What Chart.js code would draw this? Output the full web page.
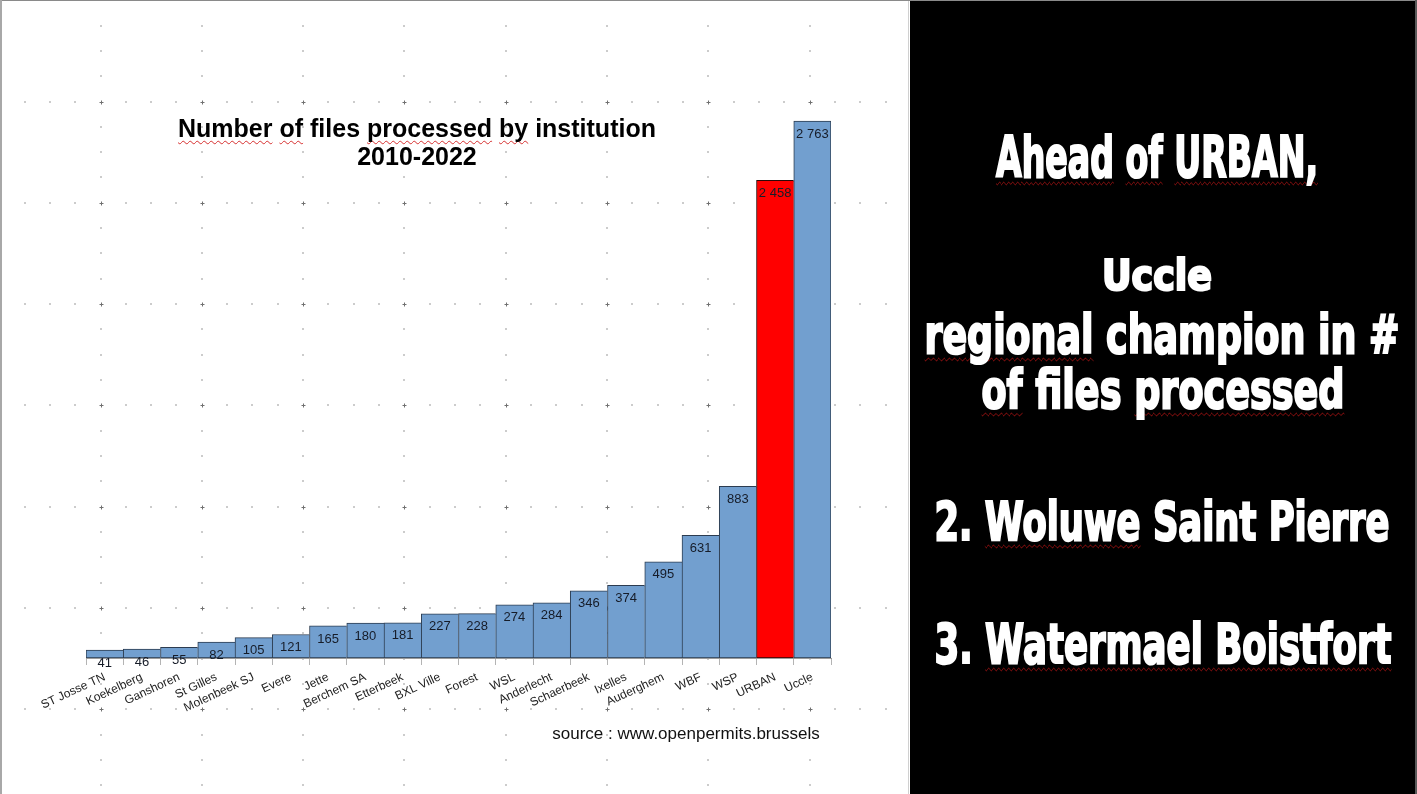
<!DOCTYPE html>
<html>
<head>
<meta charset="utf-8">
<script src="https://cdn.jsdelivr.net/npm/chart.js@4.4.1/dist/chart.umd.min.js"></script>
<style>
  html, body { margin:0; padding:0; background:#fff; width:1417px; height:794px; overflow:hidden; position:relative;
    font-family:"Liberation Sans", Arial, sans-serif; }
  #chartBox { position:absolute; left:0; top:0; width:909px; height:794px; }
  #panel { position:absolute; left:910px; top:0; width:507px; height:794px; background:#000; }
  .edgeTop { position:absolute; left:0; top:0; width:1417px; height:1px; background:#8a8a8a; }
  .edgeLeft { position:absolute; left:0; top:0; width:2px; height:794px; background:#a8a8a8; }
  .edgeMid { position:absolute; left:908px; top:0; width:1px; height:794px; background:#d0d0d0; }
  .edgeRight { position:absolute; left:1415px; top:0; width:2px; height:794px; background:#5a5a5a; }
  .title { position:absolute; left:117px; width:600px; top:114px; text-align:center; font-weight:bold;
    font-size:25px; line-height:28px; color:#000; white-space:nowrap; }
  .source { position:absolute; left:486px; width:400px; top:724px; text-align:center; font-size:17px;
    line-height:20px; color:#111; white-space:nowrap; }
  .wavy { text-decoration:underline wavy #d63030; text-decoration-thickness:1px; text-underline-offset:3px;
    text-decoration-skip-ink:none; }
  .pline { position:absolute; width:1200px; text-align:center; white-space:nowrap; color:#fff; font-weight:bold;
    font-family:"Liberation Sans Narrow", "DejaVu Sans Condensed", "Liberation Sans", sans-serif;
    -webkit-text-stroke:2.2px #fff; transform-origin:600px 0; }
  .wavyW { text-decoration:underline wavy #a01010; text-decoration-thickness:1px; text-underline-offset:4px;
    text-decoration-skip-ink:none; }
</style>
</head>
<body>
<div id="chartBox"><canvas id="chart"></canvas></div>
<div class="edgeMid"></div>
<div id="panel"></div>
<div class="edgeTop"></div>
<div class="edgeLeft"></div>
<div class="edgeRight"></div>

<div class="title"><span class="wavy">Number</span> <span class="wavy">of</span> files <span class="wavy">processed</span> <span class="wavy">by</span> institution<br>2010-2022</div>
<div class="source">source : www.openpermits.brussels</div>

<script>
// ---------------- data ----------------
const categories = ['ST Josse TN','Koekelberg','Ganshoren','St Gilles','Molenbeek SJ','Evere','Jette',
  'Berchem SA','Etterbeek','BXL Ville','Forest','WSL','Anderlecht','Schaerbeek','Ixelles','Auderghem',
  'WBF','WSP','URBAN','Uccle'];
const filesProcessed = [41,46,55,82,105,121,165,180,181,227,228,274,284,346,374,495,631,883,2458,2763];
const highlightedCategory = 'URBAN';
const yAxisMax = 3000;

// right-hand panel text (segments: [text, spell-check underline])
const panelLines = [
  [['Ahead',true],[' ',false],['of',true],[' ',false],['URBAN,',true]],
  [['Uccle',false]],
  [['regional',true],[' champion in #',false]],
  [['of',true],[' files ',false],['processed',true]],
  [['2. ',false],['Woluwe',true],[' Saint Pierre',false]],
  [['3. ',false],['Watermael Boistfort',true]]
];
// ---------------------------------------

const panelBox = [
  {cx:1157, base:177, cap:42, w:322},
  {cx:1157, base:290, cap:32, w:110},
  {cx:1162, base:353, cap:40, w:475},
  {cx:1163, base:408, cap:40, w:363},
  {cx:1162, base:540, cap:40, w:455},
  {cx:1163, base:663, cap:41, w:457}
];

function fmtThousands(v) { return String(v).replace(/\B(?=(\d{3})+(?!\d))/g, ' '); }

const dotGrid = {
  id: 'dotGrid',
  beforeDraw(chart) {
    const ctx = chart.ctx;
    const W = chart.width, H = chart.height;
    const major = 101.3, minor = major / 4, x0 = 100.5, y0 = 101.5;
    ctx.save();
    ctx.fillStyle = '#cccccc';
    for (let k = 0; y0 + k * major < H; k++) {
      const y = y0 + k * major;
      for (let j = -3; x0 + j * minor < W - 2; j++) {
        if (j % 4 === 0) continue;
        ctx.fillRect(Math.round(x0 + j * minor) - 1, Math.round(y) - 1, 2, 2);
      }
    }
    for (let k = 0; x0 + k * major < W; k++) {
      const x = x0 + k * major;
      for (let j = -3; y0 + j * minor < H - 2; j++) {
        if (j % 4 === 0) continue;
        ctx.fillRect(Math.round(x) - 1, Math.round(y0 + j * minor) - 1, 2, 2);
      }
    }
    ctx.strokeStyle = '#707070';
    ctx.lineWidth = 1;
    for (let k = 0; x0 + k * major < W; k++) {
      for (let m = 0; y0 + m * major < H; m++) {
        const x = Math.round(x0 + k * major) + 0.5, y = Math.round(y0 + m * major) + 0.5;
        ctx.beginPath();
        ctx.moveTo(x - 2, y); ctx.lineTo(x + 2, y);
        ctx.moveTo(x, y - 2); ctx.lineTo(x, y + 2);
        ctx.stroke();
      }
    }
    ctx.restore();
  }
};

const valueLabels = {
  id: 'valueLabels',
  afterDatasetsDraw(chart) {
    const ctx = chart.ctx;
    const meta = chart.getDatasetMeta(0);
    ctx.save();
    ctx.font = '13px "Liberation Sans", Arial, sans-serif';
    ctx.fillStyle = '#161c28';
    ctx.textAlign = 'center';
    ctx.textBaseline = 'middle';
    meta.data.forEach((bar, i) => {
      ctx.fillText(fmtThousands(filesProcessed[i]), bar.x, bar.y + 13);
    });
    ctx.restore();
  }
};

const lastIndex = filesProcessed.length - 1;

new Chart(document.getElementById('chart'), {
  type: 'bar',
  data: {
    labels: categories,
    datasets: [{
      data: filesProcessed,
      barPercentage: 1,
      categoryPercentage: 1,
      backgroundColor: c => categories[c.dataIndex] === highlightedCategory ? '#ff0000' : '#729fcf',
      borderColor: c => categories[c.dataIndex] === highlightedCategory ? '#2a0808' : '#2c3c50',
      borderWidth: c => ({ left: 1, top: 1, bottom: 1, right: c.dataIndex === lastIndex ? 1 : 0 }),
      borderSkipped: false
    }]
  },
  options: {
    responsive: true,
    maintainAspectRatio: false,
    animation: false,
    events: [],
    layout: { padding: { left: 86, right: 78, top: 75, bottom: 0 } },
    plugins: { legend: { display: false }, tooltip: { enabled: false }, title: { display: false } },
    scales: {
      x: {
        grid: { offset: true, drawOnChartArea: false, drawTicks: true, tickLength: 7, color: '#b4b4b4', lineWidth: 1 },
        border: { display: true, color: '#9a9a9a' },
        ticks: { autoSkip: false, minRotation: 25, maxRotation: 25, padding: 5, color: '#222',
          font: { family: '"Liberation Sans", Arial, sans-serif', size: 12 } },
        afterFit(axis) { axis.paddingLeft = 0; axis.paddingRight = 0; axis.height = 136; }
      },
      y: { display: false, min: 0, max: yAxisMax }
    }
  },
  plugins: [dotGrid, valueLabels]
});

function layoutPanel() {
  panelLines.forEach((segs, i) => {
    const L = panelBox[i];
    const stroke = 2.2;
    const F = (L.cap - stroke) / 0.7;
    const div = document.createElement('div');
    div.className = 'pline';
    div.style.fontSize = F + 'px';
    div.style.lineHeight = F + 'px';
    div.style.left = (L.cx - 600) + 'px';
    div.style.top = '0px';
    const span = document.createElement('span');
    segs.forEach(([t, u]) => {
      const s = document.createElement('span');
      s.textContent = t;
      if (u) s.className = 'wavyW';
      span.appendChild(s);
    });
    const probe = document.createElement('span');
    probe.style.display = 'inline-block';
    probe.style.width = '0px';
    probe.style.height = '0px';
    probe.style.verticalAlign = 'baseline';
    span.appendChild(probe);
    div.appendChild(span);
    document.body.appendChild(div);
    const dr = div.getBoundingClientRect();
    const pr = probe.getBoundingClientRect();
    const sr = span.getBoundingClientRect();
    const baseOff = pr.top - dr.top;
    div.style.top = (L.base - baseOff) + 'px';
    div.style.transform = 'scaleX(' + (L.w / sr.width) + ')';
  });
}
if (document.fonts && document.fonts.ready) { document.fonts.ready.then(layoutPanel); } else { layoutPanel(); }
</script>
</body>
</html>
